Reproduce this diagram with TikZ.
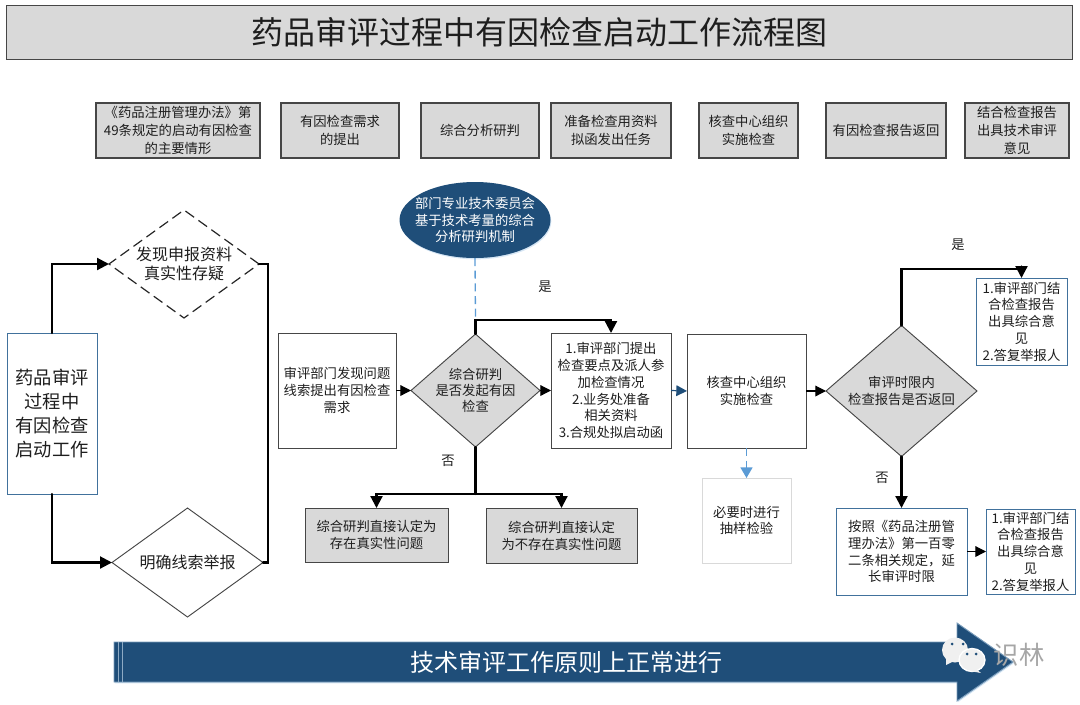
\documentclass[tikz,border=0pt]{standalone}
\usepackage{fontspec}
\setmainfont{Noto Sans CJK SC}
\usepackage{xcolor}
\definecolor{revgray}{RGB}{217,217,217}
\definecolor{revedge}{RGB}{70,70,70}
\definecolor{revnavy}{RGB}{31,78,121}
\definecolor{revblue}{RGB}{65,113,156}
\definecolor{revsky}{RGB}{91,155,213}
\definecolor{revtext}{RGB}{30,30,30}
\usetikzlibrary{arrows.meta,positioning,shapes.geometric,calc,shadows}
\tikzset{
  boxsize/.style 2 args={minimum width=#1*0.75pt,minimum height=#2*0.75pt},
  softshadow/.style={drop shadow={shadow xshift=0.6pt,shadow yshift=-1pt,opacity=0.25,fill=revsky}},
  bodyfont/.style={font=\fontsize{10pt}{12.6pt}\selectfont,text=revtext,align=center},
  plainbox/.style={draw=revedge,line width=0.7pt,fill=white,inner sep=0pt,outer sep=0pt,bodyfont,softshadow},
  graybox/.style={plainbox,fill=revgray},
  headbox/.style={graybox,line width=0.8pt,font=\fontsize{10pt}{13.5pt}\selectfont},
  bluebox/.style={plainbox,draw=revblue},
  choice/.style={diamond,draw=revedge,line width=0.7pt,inner sep=-3pt,outer sep=0pt,align=center,text=revtext},
  tag/.style={font=\fontsize{10pt}{12pt}\selectfont,text=revtext},
  mainline/.style={line width=1.6pt,black,line cap=round,-{Triangle[length=9pt,width=9pt]}},
  busline/.style={line width=1.6pt,black,line cap=round},
  thinline/.style={line width=0.9pt,black,-{Triangle[length=8pt,width=8pt]}},
  softline/.style={line width=1pt,revsky,dash pattern=on 6pt off 3.5pt}
}
\begin{document}
\begin{tikzpicture}[x=0.75pt,y=-0.75pt]
  \useasboundingbox (0,0) rectangle (1080,704);
  \node[graybox,boxsize={1066}{54},font=\fontsize{24pt}{28pt}\selectfont] (title) at (539,32) {药品审评过程中有因检查启动工作流程图};

  \node[headbox,boxsize={164}{55}] (headrule) at (178,130.5) {《药品注册管理办法》第\\49条规定的启动有因检查\\的主要情形};
  \node[headbox,boxsize={118}{55}] (headneed) at (340,130.5) {有因检查需求\\的提出};
  \node[headbox,boxsize={118}{55}] (headstudy) at (480,130.5) {综合分析研判};
  \node[headbox,boxsize={120}{55}] (headprep) at (611,130.5) {准备检查用资料\\拟函发出任务};
  \node[headbox,boxsize={99}{55}] (headcheck) at (748.5,130.5) {核查中心组织\\实施检查};
  \node[headbox,boxsize={120}{55}] (headback) at (886,130.5) {有因检查报告返回};
  \node[headbox,boxsize={104}{55}] (headend) at (1017,130.5) {结合检查报告\\出具技术审评\\意见};

  \node[bluebox,boxsize={90}{161},font=\fontsize{13.7pt}{17.8pt}\selectfont] (start) at (52,413.5) {药品审评\\过程中\\有因检查\\启动工作};
  \node[choice,dash pattern=on 8pt off 4pt,draw=black!85,line width=0.9pt,fill=white,aspect=1.39,boxsize={150}{108},font=\fontsize{12pt}{14.4pt}\selectfont] (doubt) at (184,264) {发现申报资料\\真实性存疑};
  \node[choice,fill=white,aspect=1.39,boxsize={151}{109},font=\fontsize{12pt}{14.4pt}\selectfont] (clue) at (187.5,562.5) {明确线索举报};
  \coordinate (busright) at (268,264);

  \node[plainbox,boxsize={118}{115}] (found) at (337,390.5) {审评部门发现问题\\线索提出有因检查\\需求};
  \node[choice,fill=revgray,aspect=1.14,boxsize={129}{113},font=\fontsize{10pt}{12pt}\selectfont] (judge) at (475.5,390.5) {综合研判\\是否发起有因\\检查};
  \node[ellipse,fill=revnavy,inner sep=-5pt,outer sep=0pt,boxsize={151}{76},text=white,align=center,font=\fontsize{10pt}{12.6pt}\selectfont,softshadow] (panel) at (475,220) {部门专业技术委员会\\基于技术考量的综合\\分析研判机制};
  \coordinate (judgeup) at (475.5,320);
  \coordinate (judgedown) at (475.5,494);

  \node[plainbox,boxsize={120}{115}] (prep) at (611,390.5) {1.审评部门提出\\检查要点及派人参\\加检查情况\\2.业务处准备\\相关资料\\3.合规处拟启动函};
  \node[plainbox,boxsize={119}{114}] (center) at (746.5,391) {核查中心组织\\实施检查};
  \node[plainbox,draw=revgray,boxsize={89}{85}] (sample) at (746.5,520.5) {必要时进行\\抽样检验};
  \node[graybox,boxsize={143}{54}] (directyes) at (376.5,535) {综合研判直接认定为\\存在真实性问题};
  \node[graybox,boxsize={151}{55}] (directno) at (561.5,535.5) {综合研判直接认定\\为不存在真实性问题};

  \node[choice,fill=revgray,aspect=1.15,boxsize={151}{131},font=\fontsize{10pt}{13pt}\selectfont] (limit) at (901.5,391) {审评时限内\\检查报告是否返回};
  \coordinate (limitup) at (901.5,269);
  \node[bluebox,boxsize={91}{87}] (opinion) at (1021.5,321.5) {1.审评部门结\\合检查报告\\出具综合意\\见\\2.答复举报人};
  \node[bluebox,boxsize={131}{87}] (extend) at (901.5,551.5) {按照《药品注册管\\理办法》第一百零\\二条相关规定，延\\长审评时限};
  \node[bluebox,boxsize={89}{85}] (opiniontwo) at (1030.5,551.5) {1.审评部门结\\合检查报告\\出具综合意\\见\\2.答复举报人};

  \node[tag] (yesleft) at (545,287) {是};
  \node[tag] (noleft) at (448,461) {否};
  \node[tag] (yesright) at (958,245) {是};
  \node[tag] (noright) at (882,478) {否};

  \draw[mainline] (start.north) |- (doubt.west);
  \draw[mainline] (start.south) |- (clue.west);
  \draw[busline] (doubt.east) -- (busright) -- (busright |- clue.east) -- (clue.east);

  \draw[softline] (panel.south) -- (judgeup);
  \draw[thinline] (found.east |- judge.west) -- (judge.west);
  \draw[mainline] (judge.north) -- (judgeup) -| (prep.north);
  \draw[thinline] (judge.east) -- (judge.east -| prep.west);
  \draw[busline] (judge.south) -- (judgedown);
  \draw[mainline] (judgedown) -| (directyes.north);
  \draw[mainline] (judgedown) -| (directno.north);
  \draw[thinline,revnavy] (prep.east) -- (center.west);
  \draw[softline,line width=1.2pt,-{Triangle[length=8pt,width=9pt]}] (center.south) -- (sample.north);
  \draw[thinline] (center.east) -- (limit.west);
  \draw[mainline] (limit.north) -- (limitup) -| (opinion.north);
  \draw[mainline] (limit.south) -- (extend.north);
  \draw[thinline] (extend.east) -- (opiniontwo.west);

  \draw[fill=revnavy,draw=revblue!70,line width=0.7pt,softshadow] (114,642) -- (957,642) -- (957,623) -- (1013,662) -- (957,701) -- (957,682) -- (114,682) -- cycle;
  \draw[revblue!60,line width=0.7pt] (118,642) -- (118,682);
  \draw[revblue!60,line width=0.7pt] (122,642) -- (122,682);
  \node[text=white,font=\fontsize{18pt}{22pt}\selectfont] (normal) at (566,662) {技术审评工作原则上正常进行};

  \fill[revgray!40!white] (955,650) ellipse (13 and 12.5);
  \fill[revgray!40!white] (946,659) -- (946,665) -- (954,661) -- cycle;
  \fill[revnavy] (952,644) circle (1.5);
  \fill[revnavy] (963,644) circle (1.5);
  \draw[white,line width=1pt,fill=revgray!40!white] (972,660) ellipse (13 and 11.5);
  \fill[revgray!40!white] (976,669) -- (981,673) -- (970,671) -- cycle;
  \fill[revnavy] (967,654) circle (1.5);
  \fill[revnavy] (976,654) circle (1.5);
  \node[text=black!35,font=\fontsize{19pt}{22pt}\selectfont] (mark) at (1019,655) {识林};
\end{tikzpicture}
\end{document}
